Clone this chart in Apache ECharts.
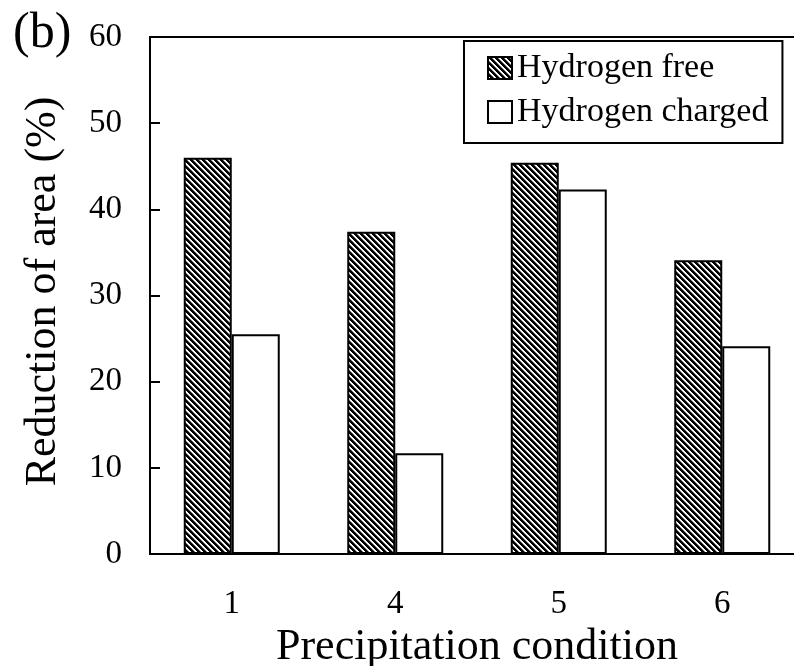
<!DOCTYPE html>
<html>
<head>
<meta charset="utf-8">
<script src="https://cdn.jsdelivr.net/npm/echarts@6/dist/echarts.min.js"></script>
<style>html,body{margin:0;padding:0;background:#fff}#c{width:794px;height:666px}</style>
</head>
<body>
<div id="c"></div>
<script>
const categories = ['1', '4', '5', '6'];
const hydrogenFree = [46.0, 37.4, 45.4, 34.1];
const hydrogenCharged = [25.5, 11.7, 42.3, 24.1];
const yTicks = [0, 10, 20, 30, 40, 50, 60];
const seriesNames = ['Hydrogen free', 'Hydrogen charged'];

const FONT = "'Liberation Serif', 'Times New Roman', serif";

// hatch pattern "\" diagonal
const P = 6;
const tile = document.createElement('canvas');
tile.width = P; tile.height = P;
const tctx = tile.getContext('2d');
const img = tctx.createImageData(P, P);
for (let y = 0; y < P; y++) {
  for (let x = 0; x < P; x++) {
    const k = ((x - y) % P + P) % P;
    const v = k < 3 ? 0 : (k === 3 ? 120 : 255);
    const i = (y * P + x) * 4;
    img.data[i] = v; img.data[i+1] = v; img.data[i+2] = v; img.data[i+3] = 255;
  }
}
tctx.putImageData(img, 0, 0);

const chart = echarts.init(document.getElementById('c'), null, {renderer: 'canvas'});
chart.setOption({
  animation: false,
  backgroundColor: '#fff',
  textStyle: {fontFamily: FONT, color: '#000'},
  grid: {left: 150, top: 37, bottom: 112, right: -10, outerBoundsMode: 'none', containLabel: false,
         show: true, borderColor: '#000', borderWidth: 2, backgroundColor: 'transparent'},
  graphic: [{type: 'text', left: 13, top: 9, style: {text: '(b)', font: '50px ' + FONT, fill: '#000'}}],
  legend: {
    orient: 'vertical', left: 464, top: 41,
    padding: [10, 14, 14, 23],
    borderColor: '#000', borderWidth: 2,
    icon: 'rect',
    itemWidth: 24, itemHeight: 22, itemGap: 10,
    textStyle: {fontFamily: FONT, fontSize: 34, color: '#000', padding: [0, 0, 0, 0]},
    data: seriesNames
  },
  xAxis: {
    type: 'category', data: categories,
    axisLine: {lineStyle: {color: '#000', width: 2}},
    axisTick: {inside: true, length: 9, lineStyle: {color: '#000', width: 2}},
    axisLabel: {fontFamily: FONT, fontSize: 33, color: '#000', margin: 34},
    name: 'Precipitation condition', nameLocation: 'middle', nameGap: 66,
    nameTextStyle: {fontFamily: FONT, fontSize: 44, color: '#000'}
  },
  yAxis: {
    type: 'value', min: 0, max: 60, interval: 10,
    splitLine: {show: false},
    axisLine: {show: true, lineStyle: {color: '#000', width: 2}},
    axisTick: {show: true, inside: true, length: 10, lineStyle: {color: '#000', width: 2}},
    axisLabel: {fontFamily: FONT, fontSize: 33, color: '#000', margin: 28,
      formatter: v => yTicks.includes(v) ? String(v) : ''},
    name: 'Reduction of area (%)', nameLocation: 'middle', nameGap: 85,
    nameTextStyle: {fontFamily: FONT, fontSize: 44, color: '#000', padding: [0, 0, 0, 8]}
  },
  series: [
    {name: seriesNames[0], type: 'bar', data: hydrogenFree, barWidth: 48, barGap: '0%',
     itemStyle: {color: {image: tile, repeat: 'repeat'}, borderColor: '#000', borderWidth: 2}},
    {name: seriesNames[1], type: 'bar', data: hydrogenCharged, barWidth: 48, barGap: '0%',
     itemStyle: {color: '#fff', borderColor: '#000', borderWidth: 2}}
  ]
});
</script>
</body>
</html>
